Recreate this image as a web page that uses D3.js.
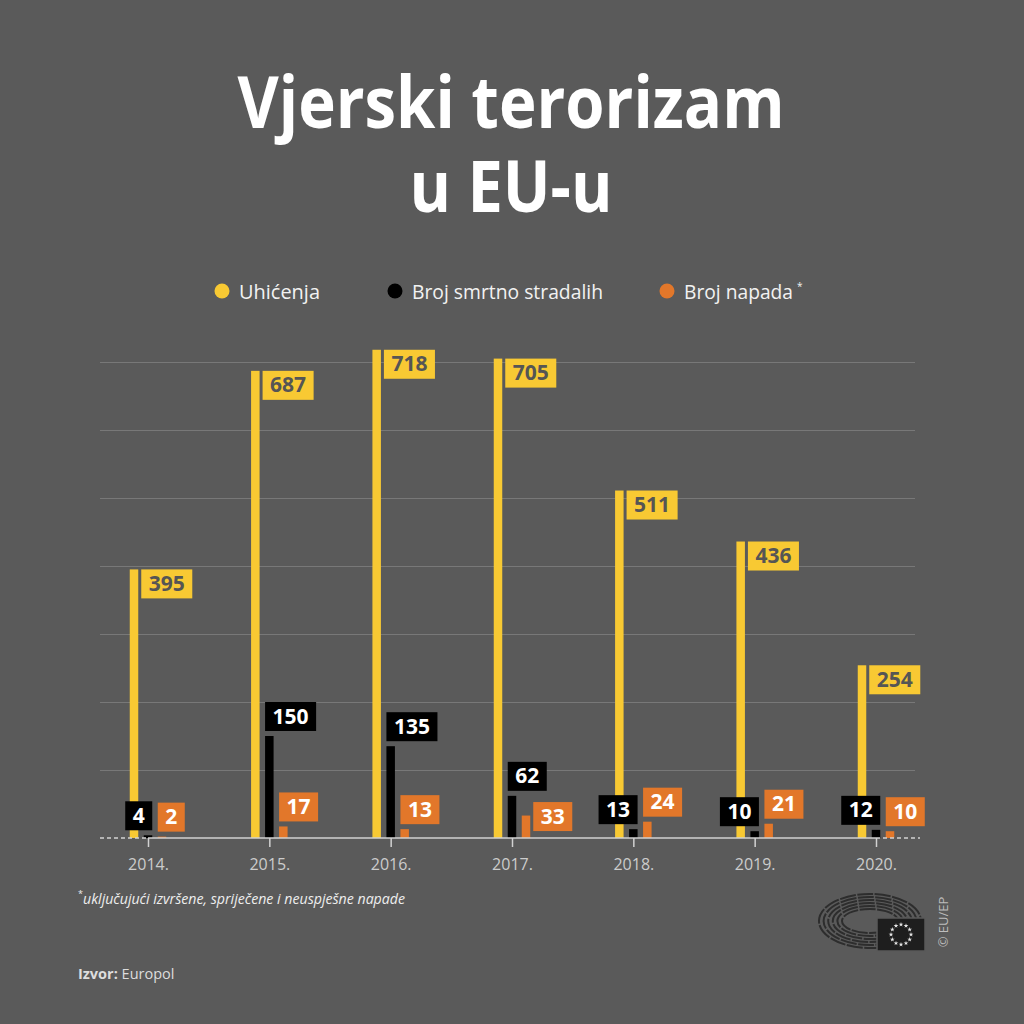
<!DOCTYPE html>
<html>
<head>
<meta charset="utf-8">
<script src="https://cdn.jsdelivr.net/npm/d3@7"></script>
<style>
    body { margin: 0; background: #5a5a5a; }
    svg { display: block; font-family: "Open Sans", sans-serif; }
</style>
</head>
<body>
<svg id="chart" width="1024" height="1024"></svg>
<script>
// Data (Europol, religious terrorism in the EU)
var years = ["2014.", "2015.", "2016.", "2017.", "2018.", "2019.", "2020."];
var arrests = [395, 687, 718, 705, 511, 436, 254];
var deaths = [4, 150, 135, 62, 13, 10, 12];
var attacks = [2, 17, 13, 33, 24, 21, 10];

var seriesKeys = ["arrests", "deaths", "attacks"];
var seriesValues = { arrests: arrests, deaths: deaths, attacks: attacks };
var legendLabels = ["Uhićenja", "Broj smrtno stradalih", "Broj napada"];
var gridValues = [100, 200, 300, 400, 500, 600, 700];

var colors = { arrests: "#f8c933", deaths: "#000000", attacks: "#e2772a" };
var labelInk = { arrests: "#555555", deaths: "#ffffff", attacks: "#ffffff" };

var svg = d3.select("#chart");

svg.append("rect")
    .attr("width", 1024)
    .attr("height", 1024)
    .attr("fill", "#5a5a5a");

// Scales
var x = d3.scalePoint().domain(years).range([148, 876]);
var sub = d3.scalePoint().domain(seriesKeys).range([-14, 14]);
var y = d3.scaleLinear().domain([0, 700]).range([838, 362]);
var barW = 8.5;

// Title
var title = svg.append("g")
    .attr("fill", "#ffffff")
    .attr("font-weight", 700)
    .attr("font-size", 72)
    .attr("text-anchor", "middle");

title.append("text")
    .attr("x", 511).attr("y", 128)
    .attr("textLength", 547).attr("lengthAdjust", "spacingAndGlyphs")
    .text("Vjerski terorizam");

title.append("text")
    .attr("x", 511).attr("y", 212)
    .attr("textLength", 203).attr("lengthAdjust", "spacingAndGlyphs")
    .text("u EU-u");

// Legend
var legendX = [222, 395, 667];
var legendW = [81, 191, 109];
var legend = svg.append("g").attr("class", "legend");

seriesKeys.forEach(function (key, i) {
    legend.append("circle")
        .attr("cx", legendX[i]).attr("cy", 291).attr("r", 7.5)
        .attr("fill", colors[key]);
    legend.append("text")
        .attr("x", legendX[i] + 17).attr("y", 299)
        .attr("font-size", 20)
        .attr("fill", "#f2f2f2")
        .attr("textLength", legendW[i]).attr("lengthAdjust", "spacingAndGlyphs")
        .text(legendLabels[i]);
});
legend.append("text")
    .attr("x", 797).attr("y", 290)
    .attr("font-size", 10).attr("fill", "#f2f2f2")
    .text("*");

// Gridlines
var grid = svg.append("g")
    .attr("transform", "translate(915,0)")
    .call(d3.axisLeft(y).tickValues(gridValues).tickSize(815).tickFormat(""));
grid.select(".domain").remove();
grid.selectAll(".tick line").attr("stroke", "#787878").attr("stroke-width", 1);

// Bars
var bars = svg.append("g").attr("class", "bars");
seriesKeys.forEach(function (key) {
    bars.selectAll(".bar-" + key)
        .data(seriesValues[key])
        .enter()
        .append("rect")
        .attr("class", "bar-" + key)
        .attr("x", function (d, i) { return x(years[i]) + sub(key) - barW / 2; })
        .attr("y", function (d) { return y(d); })
        .attr("width", barW)
        .attr("height", function (d) { return y(0) - y(d); })
        .attr("fill", colors[key]);
});

// Baseline: solid between first and last year, dashed outside
var base = svg.append("g")
    .attr("stroke", "#d2d2d2")
    .attr("stroke-width", 1.5);
base.append("line")
    .attr("x1", x(years[0])).attr("x2", x(years[years.length - 1]))
    .attr("y1", y(0)).attr("y2", y(0));
base.append("line")
    .attr("x1", 100).attr("x2", x(years[0]))
    .attr("y1", y(0)).attr("y2", y(0))
    .attr("stroke-dasharray", "4,3");
base.append("line")
    .attr("x1", x(years[years.length - 1])).attr("x2", 920)
    .attr("y1", y(0)).attr("y2", y(0))
    .attr("stroke-dasharray", "4,3");

// X axis
var xAxis = svg.append("g")
    .attr("transform", "translate(0," + y(0) + ")")
    .call(d3.axisBottom(x).tickSize(9).tickPadding(12));
xAxis.select(".domain").remove();
xAxis.selectAll(".tick line").attr("stroke", "#d2d2d2").attr("stroke-width", 1.5);
xAxis.selectAll(".tick text")
    .attr("font-size", 16)
    .attr("font-family", "Open Sans, sans-serif")
    .attr("fill", "#cccccc");

// Value labels in boxes
var labels = svg.append("g").attr("class", "labels");
var boxH = 29;
var padX = 7.5;

function overlaps(a, b) {
    return a.x < b.x + b.w && b.x < a.x + a.w && a.y < b.y + b.h && b.y < a.y + a.h;
}

years.forEach(function (year, i) {
    var placed = {};
    seriesKeys.forEach(function (key) {
        var v = seriesValues[key][i];
        var left = x(year) + sub(key) - barW / 2;
        var right = left + barW;
        var top = y(v);

        var g = labels.append("g");
        var t = g.append("text")
            .attr("font-size", 21)
            .attr("font-weight", 700)
            .attr("fill", labelInk[key])
            .attr("text-anchor", "middle")
            .text(v);
        var w = t.node().getComputedTextLength() + padX * 2;

        var box = { w: w, h: boxH };
        if (key === "arrests") {
            box.x = right + 3;
            box.y = top;
        } else if (key === "deaths") {
            box.y = top - 5 - boxH;
            box.x = v < 20 ? right - w : left;
        } else {
            box.y = top - 5 - boxH;
            box.x = left;
            if (overlaps(box, placed.deaths)) {
                // no room above: sit beside the bar
                box.x = right + 3;
                box.y = top + 1 - boxH / 2;
            }
        }
        placed[key] = box;

        g.insert("rect", "text")
            .attr("x", box.x).attr("y", box.y)
            .attr("width", box.w).attr("height", box.h)
            .attr("fill", colors[key]);
        t.attr("x", box.x + box.w / 2).attr("y", box.y + 21.5);
    });
});

// Footnote and source
svg.append("text")
    .attr("x", 78).attr("y", 897)
    .attr("font-size", 9).attr("fill", "#eeeeee")
    .text("*");
svg.append("text")
    .attr("x", 83).attr("y", 904)
    .attr("font-size", 14.5).attr("font-style", "italic").attr("fill", "#eeeeee")
    .attr("textLength", 322).attr("lengthAdjust", "spacingAndGlyphs")
    .text("uključujući izvršene, spriječene i neuspješne napade");

var source = svg.append("text")
    .attr("x", 78).attr("y", 979)
    .attr("font-size", 14.5).attr("fill", "#dddddd");
source.append("tspan").attr("font-weight", 700).text("Izvor: ");
source.append("tspan").text("Europol");

// European Parliament logo: hemicycle + flag
var logo = svg.append("g").attr("class", "logo");
d3.range(6).forEach(function (k) {
    logo.append("ellipse")
        .attr("cx", 870).attr("cy", 921)
        .attr("rx", 28 + k * 4.6).attr("ry", 12 + k * 3)
        .attr("fill", "none")
        .attr("stroke", "#2d2d2d")
        .attr("stroke-width", 2)
        .attr("stroke-dasharray", "16,1.5");
});
logo.append("rect")
    .attr("x", 877).attr("y", 918)
    .attr("width", 48).attr("height", 33)
    .attr("fill", "#1e1e1e")
    .attr("stroke", "#5a5a5a")
    .attr("stroke-width", 1.5);
var star = d3.symbol().type(d3.symbolStar).size(7);
d3.range(12).forEach(function (k) {
    var a = k * Math.PI / 6;
    logo.append("path")
        .attr("d", star())
        .attr("transform", "translate(" + (901 + 10 * Math.sin(a)) + "," + (934.5 - 10 * Math.cos(a)) + ")")
        .attr("fill", "#e6e6e6");
});

svg.append("text")
    .attr("transform", "translate(948,922) rotate(-90)")
    .attr("text-anchor", "middle")
    .attr("font-size", 13)
    .attr("fill", "#bdbdbd")
    .text("© EU/EP");
</script>
</body>
</html>
